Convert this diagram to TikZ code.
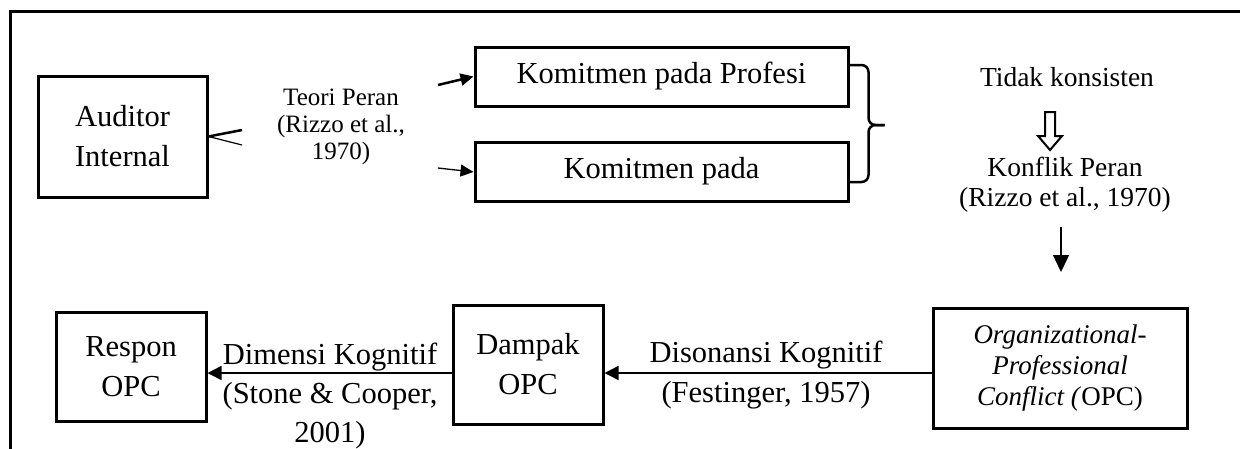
\documentclass[tikz,border=0pt]{standalone}
\usepackage{fontspec}
\setmainfont{Liberation Serif}
\usetikzlibrary{arrows.meta}
\tikzset{frame box/.style={draw,line width=3pt,inner sep=0pt,align=center}}
\tikzset{big text/.style={font=\fontsize{30.5pt}{40pt}\selectfont,align=center,inner sep=0pt}}
\tikzset{mid text/.style={font=\fontsize{27.5pt}{30pt}\selectfont,align=center,inner sep=0pt}}
\tikzset{small text/.style={font=\fontsize{25pt}{27pt}\selectfont,align=center,inner sep=0pt}}
\tikzset{flow arrow/.style={-{Triangle[length=14pt,width=14pt]},line width=1.5pt}}
\tikzset{brace line/.style={line width=2.5pt,rounded corners=7pt}}

\begin{document}
\begin{tikzpicture}[x=1pt,y=-1pt]
  \useasboundingbox (0,0) rectangle (1240,448);
  \clip (0,0) rectangle (1240,448);
  % outer frame, runs off the right and bottom
  \draw[line width=3pt] (10,470) -- (10,11) -- (1260,11);

  % top row
  \node[frame box,big text,minimum width=169pt,minimum height=121pt] at (122.5,136.5) (audit) {Auditor\\Internal};
  \node[small text] at (341,127) (teori) {Teori Peran\\(Rizzo et al.,\\1970)};
  \node[frame box,big text,minimum width=373pt,minimum height=59pt] at (661.5,76.5) (profesi) {Komitmen pada Profesi};
  \node[frame box,big text,minimum width=373pt,minimum height=59pt] at (661.5,171.5) (pada) {Komitmen pada};
  \node[mid text] at (1067,77) (konsisten) {Tidak konsisten};
  \node[mid text] at (1065,185) (konflik) {Konflik Peran\\(Rizzo et al., 1970)};

  % bottom row
  \node[frame box,big text,minimum width=150pt,minimum height=109pt] at (131,366.5) (respon) {Respon\\OPC};
  \node[frame box,big text,minimum width=150pt,minimum height=119pt] at (528,364.5) (dampak) {Dampak\\OPC};
  \node[frame box,font=\fontsize{27pt}{31pt}\selectfont,minimum width=254pt,minimum height=120pt] at (1060,368) (opc)
    {\textit{Organizational-}\\\textit{Professional}\\\textit{Conflict (}OPC)};
  \node[big text,font=\fontsize{30.5pt}{39pt}\selectfont] at (330,396) (kognitif) {Dimensi Kognitif\\(Stone \& Cooper,\\2001)};
  \node[big text] at (766,375) (disonansi) {Disonansi Kognitif\\(Festinger, 1957)};

  \coordinate (lowrow) at (0,373);
  \coordinate (fork a) at (242,130);
  \coordinate (fork b) at (242,145);
  \coordinate (in a) at (438,85);
  \coordinate (in b) at (438,168);
  \coordinate (down a) at (1061,227);
  \coordinate (down b) at (1061,272);

  % the two strokes by the auditor box
  \draw[line width=2.5pt] (audit.east) -- (fork a);
  \draw[line width=1.2pt] (audit.east) -- (fork b);
  \draw[-{Triangle[length=13pt,width=12pt]},line width=2.5pt] (in a) -- (profesi.west);
  \draw[-{Triangle[length=13pt,width=12pt]},line width=1.3pt] (in b) -- ([yshift=-0.5pt]pada.west);

  % brace
  \draw[brace line] ([yshift=11.5pt]profesi.east) -- ++(19,0) -- ++(0,60) -- ++(16,0);
  \draw[brace line] ([yshift=-10.5pt]pada.east) -- ++(19,0) -- ++(0,-57) -- ++(16,0);

  % hollow arrow
  \draw[line width=2pt,line join=miter] (1045,112) -- (1055,112) -- (1055,136) -- (1062,136)
    -- (1050,150) -- (1038,136) -- (1045,136) -- cycle;

  \draw[-{Triangle[length=17pt,width=16pt]},line width=1.5pt] (down a) -- (down b);
  \draw[flow arrow] (opc.west |- lowrow) -- (dampak.east |- lowrow);
  \draw[flow arrow] (dampak.west |- lowrow) -- (respon.east |- lowrow);
\end{tikzpicture}
\end{document}
